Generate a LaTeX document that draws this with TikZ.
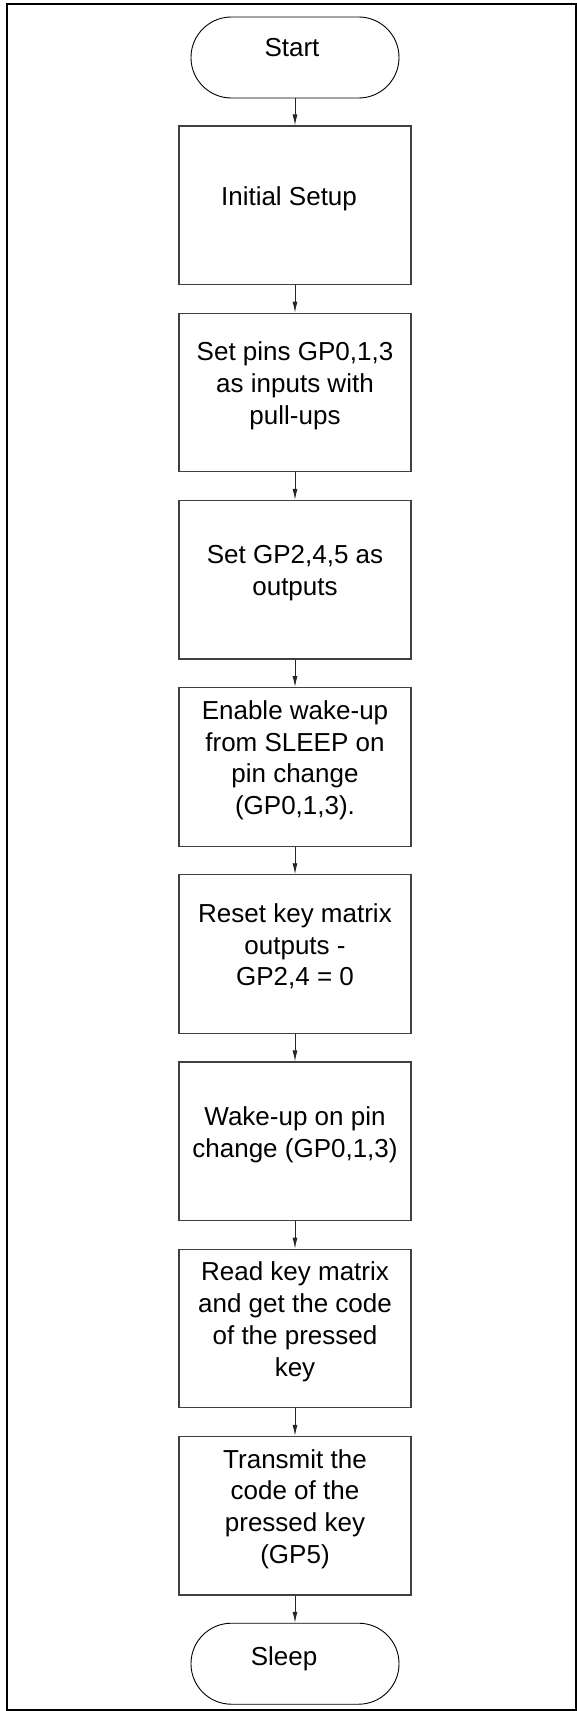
\documentclass[tikz,border=0pt]{standalone}
\usepackage{fontspec}
\setmainfont{Liberation Sans}
\usetikzlibrary{arrows.meta}
% struts that fix the top of the first line and the bottom of the last line
\newcommand\firststrut{\rule{0pt}{20pt}}
\newcommand\laststrut{\rule[-20pt]{0pt}{20pt}}
\begin{document}
\begin{tikzpicture}[x=1pt,y=-1pt,
  every node/.style={font=\fontsize{26}{31.8}\selectfont, align=center, inner sep=0pt},
  stepbox/.style={draw=black!75, line width=1.1pt, rectangle,
    minimum width=232pt, minimum height=158.6pt},
  terminal/.style={draw=black, line width=0.9pt, rectangle, rounded corners=40.4pt,
    minimum width=208pt, minimum height=81pt},
  flow/.style={draw=black!85, line width=0.9pt, -{Latex[length=11pt,width=5pt]}}]
\useasboundingbox (0,0) rectangle (577,1711);
% outer frame
\draw[line width=2pt] (7,4.3) rectangle (576,1710);

\node[terminal, text height=19pt, text depth=21.2pt] (start) at (295,57.5) {Start\makebox[6pt]{}};
\node[stepbox] (b1) at (295,205.3) {\firststrut Initial Setup\makebox[12pt]{}\laststrut};
\node[stepbox] (b2) at (295,392.5) {\firststrut Set pins GP0,1,3\\as inputs with\\pull-ups\laststrut};
\node[stepbox] (b3) at (295,579.7) {\firststrut Set GP2,4,5 as\\outputs\laststrut};
\node[stepbox] (b4) at (295,766.9) {\firststrut Enable wake-up\\from SLEEP on\\pin change\\(GP0,1,3).\laststrut};
\node[stepbox] (b5) at (295,954.1) {\firststrut Reset key matrix\\outputs -\\GP2,4 = 0\laststrut};
\node[stepbox] (b6) at (295,1141.3) {\firststrut Wake-up on pin\\change (GP0,1,3)\laststrut};
\node[stepbox] (b7) at (295,1328.5) {\firststrut Read key matrix\\and get the code\\of the pressed\\key\laststrut};
\node[stepbox] (b8) at (295,1515.7) {\firststrut Transmit the\\code of the\\pressed key\\(GP5)\laststrut};
\node[terminal, text height=21.6pt, text depth=18.4pt] (sleep) at (295,1663.7) {Sleep\makebox[22pt]{}};

\draw[flow] (start) -- (b1);
\draw[flow] (b1) -- (b2);
\draw[flow] (b2) -- (b3);
\draw[flow] (b3) -- (b4);
\draw[flow] (b4) -- (b5);
\draw[flow] (b5) -- (b6);
\draw[flow] (b6) -- (b7);
\draw[flow] (b7) -- (b8);
\draw[flow] (b8) -- (sleep);
\end{tikzpicture}
\end{document}
